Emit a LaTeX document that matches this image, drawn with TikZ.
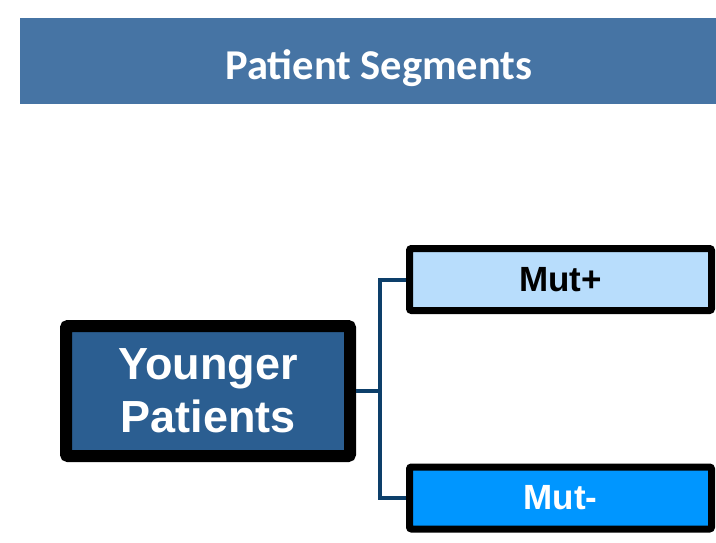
\documentclass[tikz,border=0pt]{standalone}
\usepackage{fontspec}
\setmainfont{Liberation Sans}
\newfontfamily\headfont{Carlito}
\definecolor{headblue}{HTML}{4674A4}
\definecolor{rootblue}{HTML}{2B5E91}
\definecolor{linkblue}{HTML}{0D3F6A}
\definecolor{paleblue}{HTML}{B8DDFC}
\definecolor{brightblue}{HTML}{0096FF}
\begin{document}
\begin{tikzpicture}[x=1pt,y=-1pt,
  rootbox/.style={draw=black,line width=12pt,fill=rootblue,rounded corners=2pt,
    minimum width=284pt,minimum height=130pt,inner sep=0pt,align=center,
    text=white,font=\bfseries\fontsize{45}{53}\selectfont},
  leafbox/.style={draw=black,line width=7pt,rounded corners=2pt,
    minimum width=302pt,minimum height=62pt,inner sep=0pt,
    font=\bfseries\fontsize{35}{40}\selectfont},
  conn/.style={draw=linkblue,line width=4pt}]
  \useasboundingbox (0,0) rectangle (716,542);
  % title banner
  \fill[headblue] (20,18) rectangle (716,104);
  \node[anchor=base,text=white,inner sep=0pt,font=\headfont\bfseries\fontsize{42.5}{48}\selectfont] (title) at (379,79) {Patient Segments};
  % segment boxes
  \node[rootbox] (root) at (208,391) {Younger\\Patients};
  \node[leafbox,fill=paleblue,text=black] (mutp) at (560.5,279.5) {Mut+};
  \node[leafbox,fill=brightblue,text=white] (mutm) at (560.5,498) {Mut-};
  % bracket connector
  \coordinate (j) at (380,391);
  \draw[conn] (root.east) -- (j);
  \draw[conn] (mutp.west) -| (j) |- (mutm.west);
\end{tikzpicture}
\end{document}
